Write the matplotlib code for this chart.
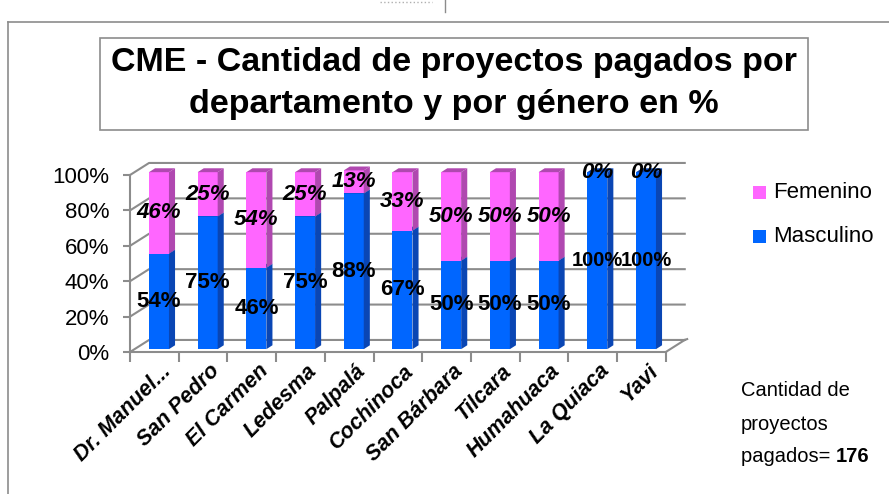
import matplotlib
matplotlib.use("Agg")
import matplotlib.pyplot as plt
from matplotlib.patches import Polygon, Rectangle
from matplotlib.lines import Line2D
from matplotlib.transforms import ScaledTranslation

plt.rcParams["font.family"] = ["Liberation Sans", "DejaVu Sans"]

departamentos = ["Dr. Manuel...", "San Pedro", "El Carmen", "Ledesma", "Palpalá", "Cochinoca",
                 "San Bárbara", "Tilcara", "Humahuaca", "La Quiaca", "Yavi"]
masculino = [54, 75, 46, 75, 88, 67, 50, 50, 50, 100, 100]
femenino = [46, 25, 54, 25, 13, 33, 50, 50, 50, 0, 0]
yticks = [0, 20, 40, 60, 80, 100]

W, H = 889, 494
fig = plt.figure(figsize=(W / 100, H / 100), dpi=100)

# outer frame and title box (pixel positions converted to figure fractions)
def px(x, y):
    return x / W, 1 - y / H

fig.add_artist(Line2D([8 / W, 8 / W], [0, 1 - 22 / H], color="#8c8c8c", lw=1.2))
fig.add_artist(Line2D([8 / W, 1], [1 - 22 / H, 1 - 22 / H], color="#8c8c8c", lw=1.2))
fig.add_artist(Line2D([445 / W, 445 / W], [1, 1 - 12 / H], color="#8c8c8c", lw=1))
fig.add_artist(Line2D([380 / W, 432 / W], [1 - 2 / H, 1 - 2 / H], color="#b0b0b0", lw=1, ls=":"))
fig.add_artist(Rectangle(px(100, 130), 708 / W, 92 / H, fill=False, ec="#8c8c8c", lw=1.2))
fig.text(454 / W, 1 - 62 / H, "CME - Cantidad de proyectos pagados por", ha="center", va="center",
         fontsize=24.5, fontweight="bold")
fig.text(454 / W, 1 - 104 / H, "departamento y por género en %", ha="center", va="center",
         fontsize=24.5, fontweight="bold")

# chart axes: front category i centre sits at 154.4 + 48.7*i px, y% at 352 - 1.77*y px
x0, y0, x1, y1 = 100, 160, 700, 380
ax = fig.add_axes([x0 / W, 1 - y1 / H, (x1 - x0) / W, (y1 - y0) / H])
ax.set_xlim((x0 - 154.4) / 48.7, (x1 - 154.4) / 48.7)
ax.set_ylim((352 - y1) / 1.77, (352 - y0) / 1.77)
ax.patch.set_alpha(0)
for s in ["top", "right"]:
    ax.spines[s].set_visible(False)

n = len(departamentos)
ddx, ddy = 0.39, 6.8          # depth of the floor / back wall
grid = "#8c8c8c"
for v in yticks:
    ax.plot([-0.5, -0.5 + ddx, n - 0.5 + ddx], [v, v + ddy, v + ddy], color=grid, lw=1.5, zorder=1)
ax.plot([n - 0.5, n - 0.5 + ddx], [0, ddy], color=grid, lw=1.5, zorder=1)
ax.plot([n - 0.5 + ddx, n - 0.5 + ddx + 0.05], [ddy, ddy + 0.5], color=grid, lw=1.5, zorder=1)

ax.spines["left"].set_position(("data", -0.5))
ax.spines["left"].set_bounds(0, 100)
ax.spines["bottom"].set_position(("data", 0))
ax.spines["bottom"].set_bounds(-0.5, n - 0.5)
for s in ["left", "bottom"]:
    ax.spines[s].set_color(grid)
    ax.spines[s].set_linewidth(1.5)
ax.set_yticks(yticks)
ax.set_yticklabels([f"{v}%" for v in yticks], fontsize=16)
ax.tick_params(axis="y", length=5, width=1.5, color=grid, pad=10)
ax.set_xticks([i - 0.5 for i in range(n + 1)], minor=True)
ax.set_xticks(range(n))
ax.set_xticklabels(departamentos, fontsize=15.5, fontweight="bold", fontstyle="italic",
                   rotation=45, ha="right", rotation_mode="anchor")
ax.tick_params(axis="x", which="major", length=0, pad=2)
ax.tick_params(axis="x", which="minor", length=7, width=1.5, color=grid)
for lab in ax.get_xticklabels():
    lab.set_transform(lab.get_transform() + ScaledTranslation(6 / 100, -6 / 100, fig.dpi_scale_trans))

# 3D-ish bars
ox, oy = 0.094, 1.6
w = 0.41
sdx, sdy = 0.125, 2.2
series = [(masculino, "#0066ff", "#0a46b4", "#0a46b4"), (femenino, "#ff66ff", "#b048b0", "#b048b0")]
bottoms = [0] * n
for vals, front, side, top in series:
    ax.bar([i + ox for i in range(n)], vals, bottom=[b + oy for b in bottoms], width=w,
           color=front, zorder=3, linewidth=0)
    for i, v in enumerate(vals):
        if v == 0:
            continue
        b = bottoms[i] + oy
        xr = i + ox + w / 2
        xl = i + ox - w / 2
        ax.add_patch(Polygon([(xr, b), (xr + sdx, b + sdy), (xr + sdx, b + v + sdy), (xr, b + v)],
                             closed=True, fc=side, ec="none", zorder=3))
        ax.add_patch(Polygon([(xl, b + v), (xl + sdx, b + v + sdy), (xr + sdx, b + v + sdy), (xr, b + v)],
                             closed=True, fc=top, ec="none", zorder=3))
    bottoms = [b + v for b, v in zip(bottoms, vals)]

for i in range(n):
    ax.text(i + ox, masculino[i] / 2 + oy, f"{masculino[i]}%", ha="center", va="center",
            fontsize=16 if masculino[i] < 100 else 14.5, fontweight="bold", zorder=5)
    ax.text(i + ox, masculino[i] + femenino[i] / 2 + oy, f"{femenino[i]}%", ha="center", va="center",
            fontsize=16, fontweight="bold", fontstyle="italic", zorder=5)

# legend
fig.add_artist(Rectangle(px(753, 199), 13 / W, 13 / H, fc="#ff66ff", ec="none"))
fig.text(773 / W, 1 - 192 / H, "Femenino", va="center", fontsize=16)
fig.add_artist(Rectangle(px(753, 243), 13 / W, 13 / H, fc="#0066ff", ec="none"))
fig.text(773 / W, 1 - 236 / H, "Masculino", va="center", fontsize=16)

fig.text(741 / W, 1 - 391 / H, "Cantidad de", va="center", fontsize=14.5)
fig.text(741 / W, 1 - 424 / H, "proyectos", va="center", fontsize=14.5)
t = fig.text(741 / W, 1 - 456 / H, "pagados= ", va="center", fontsize=14.5)
fig.canvas.draw()
bb = t.get_window_extent()
fig.text(bb.x1 / W, 1 - 456 / H, "176", va="center", fontsize=14.5, fontweight="bold")

fig.savefig("out.png", dpi=100)
